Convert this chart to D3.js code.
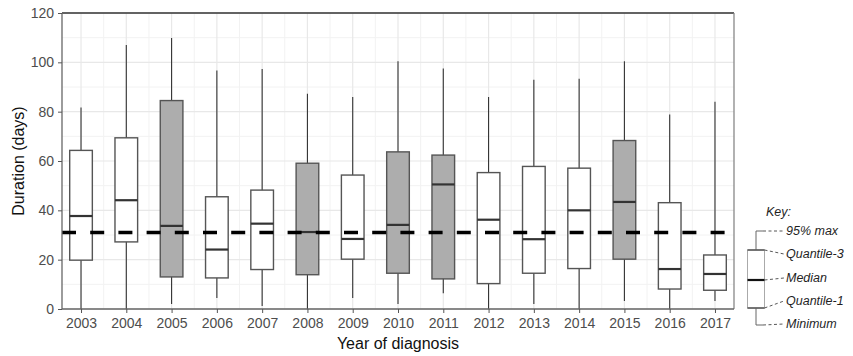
<html>
<head>
	<title>Duration by year of diagnosis</title>
	<script src="https://cdn.jsdelivr.net/npm/d3@7"></script>
	<style>
		body { margin: 0; background: #fff; }
		text { font-family: "Liberation Sans", Arial, sans-serif; }
	</style>
</head>
<body>
	<svg id="chart"></svg>
	<script>
		// data
		var years = ["2003","2004","2005","2006","2007","2008","2009","2010","2011","2012","2013","2014","2015","2016","2017"];
		var mins    = [0, 0, 2.0, 4.5, 1.2, 0, 4.5, 2.0, 6.4, 0, 2.0, 0, 3.2, 0, 3.2];
		var q1s     = [19.8, 27.2, 13.0, 12.6, 16.0, 13.9, 20.2, 14.5, 12.2, 10.3, 14.5, 16.4, 20.2, 8.1, 7.6];
		var medians = [37.7, 44.1, 33.7, 24.1, 34.6, 31.2, 28.4, 34.1, 50.5, 36.2, 28.3, 40.0, 43.4, 16.2, 14.2];
		var q3s     = [64.3, 69.4, 84.5, 45.5, 48.2, 59.1, 54.3, 63.7, 62.4, 55.3, 57.8, 57.1, 68.3, 43.1, 21.9];
		var maxs    = [81.7, 107.0, 109.9, 96.7, 97.3, 87.3, 85.9, 100.4, 97.5, 85.9, 92.9, 93.3, 100.4, 78.9, 84.0];
		var shaded  = [false, false, true, false, false, true, false, true, true, false, false, false, true, false, false];
		var overall = 31.0;
		var yTicks = [0, 20, 40, 60, 80, 100, 120];
		var keyLabels = ["95% max", "Quantile-3", "Median", "Quantile-1", "Minimum"];

		var width = 853, height = 356;
		var pLeft = 62, pRight = 734, pTop = 13, pBottom = 309;

		var rows = years.map(function(yr, i) {
			return {year: yr, min: mins[i], q1: q1s[i], med: medians[i], q3: q3s[i], max: maxs[i], shaded: shaded[i]};
		});

		var svg = d3.select("#chart")
				.attr("width", width)
				.attr("height", height);

		var x = d3.scalePoint().domain(years).range([pLeft, pRight]).padding(0.42);
		var y = d3.scaleLinear().domain([0, 120]).range([pBottom, pTop]);
		var step = x.step();
		var boxW = step * 0.5;

		// grid, minor then major
		var minorY = d3.range(10, 120, 20);
		svg.selectAll(".gy-minor").data(minorY).enter().append("line")
				.attr("x1", pLeft).attr("x2", pRight)
				.attr("y1", function(d) { return y(d); }).attr("y2", function(d) { return y(d); })
				.attr("stroke", "#f2f2f2").attr("stroke-width", 1);
		svg.selectAll(".gx-minor").data(years.slice(1)).enter().append("line")
				.attr("x1", function(d) { return x(d) - step / 2; }).attr("x2", function(d) { return x(d) - step / 2; })
				.attr("y1", pTop).attr("y2", pBottom)
				.attr("stroke", "#f2f2f2").attr("stroke-width", 1);
		svg.selectAll(".gy").data(yTicks).enter().append("line")
				.attr("x1", pLeft).attr("x2", pRight)
				.attr("y1", function(d) { return y(d); }).attr("y2", function(d) { return y(d); })
				.attr("stroke", "#e8e8e8").attr("stroke-width", 1.2);
		svg.selectAll(".gx").data(years).enter().append("line")
				.attr("x1", function(d) { return x(d); }).attr("x2", function(d) { return x(d); })
				.attr("y1", pTop).attr("y2", pBottom)
				.attr("stroke", "#e8e8e8").attr("stroke-width", 1.2);

		// boxes
		var g = svg.selectAll(".box").data(rows).enter().append("g").attr("class", "box");
		g.append("line")
				.attr("x1", function(d) { return x(d.year); }).attr("x2", function(d) { return x(d.year); })
				.attr("y1", function(d) { return y(d.max); }).attr("y2", function(d) { return y(d.min); })
				.attr("stroke", "#333").attr("stroke-width", 1.1);
		g.append("rect")
				.attr("x", function(d) { return x(d.year) - boxW / 2; })
				.attr("width", boxW)
				.attr("y", function(d) { return y(d.q3); })
				.attr("height", function(d) { return y(d.q1) - y(d.q3); })
				.attr("fill", function(d) { return d.shaded ? "#adadad" : "#fff"; })
				.attr("stroke", "#555").attr("stroke-width", 1.4);
		g.append("line")
				.attr("x1", function(d) { return x(d.year) - boxW / 2; }).attr("x2", function(d) { return x(d.year) + boxW / 2; })
				.attr("y1", function(d) { return y(d.med); }).attr("y2", function(d) { return y(d.med); })
				.attr("stroke", "#333").attr("stroke-width", 2.2);

		// overall reference line
		svg.append("line")
				.attr("x1", pLeft).attr("x2", pRight)
				.attr("y1", y(overall)).attr("y2", y(overall))
				.attr("stroke", "#000").attr("stroke-width", 3.5)
				.attr("stroke-dasharray", "14,14.2");

		// panel border
		svg.append("line").attr("x1", pLeft).attr("x2", pRight).attr("y1", pTop).attr("y2", pTop).attr("stroke", "#333").attr("stroke-width", 1.3);
		svg.append("line").attr("x1", pRight).attr("x2", pRight).attr("y1", pTop).attr("y2", pBottom).attr("stroke", "#888").attr("stroke-width", 1.3);

		// axes
		var yAxis = svg.append("g")
				.attr("transform", "translate(" + pLeft + ",0)")
				.call(d3.axisLeft(y).tickValues(yTicks).tickSize(4).tickPadding(4));
		var xAxis = svg.append("g")
				.attr("transform", "translate(0," + pBottom + ")")
				.call(d3.axisBottom(x).tickSize(4).tickPadding(5));
		[yAxis, xAxis].forEach(function(a) {
			a.select(".domain").attr("stroke", "#666").attr("stroke-width", 1.3);
			a.selectAll(".tick line").attr("stroke", "#555");
			a.selectAll(".tick text").attr("fill", "#4d4d4d").style("font-size", "14px").style("font-family", "Liberation Sans, Arial, sans-serif");
		});
		xAxis.select(".domain").attr("d", "M" + pLeft + ",0H" + pRight);
		yAxis.select(".domain").attr("d", "M0," + pTop + "V" + pBottom);

		svg.append("text")
				.attr("transform", "translate(24," + ((pTop + pBottom) / 2) + ") rotate(-90)")
				.attr("text-anchor", "middle")
				.style("font-size", "16px").attr("fill", "#111")
				.text("Duration (days)");
		svg.append("text")
				.attr("x", (pLeft + pRight) / 2).attr("y", 349)
				.attr("text-anchor", "middle")
				.style("font-size", "16px").attr("fill", "#111")
				.text("Year of diagnosis");

		// key
		var kx = 756, kw = 17;
		var ky = [231, 250, 280, 308, 325];
		var ly = [234, 257, 281, 304, 327];
		var key = svg.append("g").attr("class", "key");
		key.append("text").attr("x", 766).attr("y", 216)
				.style("font-size", "12.5px").style("font-style", "italic").attr("fill", "#1f1f1f")
				.text("Key:");
		key.append("line").attr("x1", kx).attr("x2", kx).attr("y1", ky[0]).attr("y2", ky[4]).attr("stroke", "#666").attr("stroke-width", 1);
		key.append("line").attr("x1", kx).attr("x2", kx + 7).attr("y1", ky[0]).attr("y2", ky[0]).attr("stroke", "#666").attr("stroke-width", 1);
		key.append("line").attr("x1", kx).attr("x2", kx + 7).attr("y1", ky[4]).attr("y2", ky[4]).attr("stroke", "#666").attr("stroke-width", 1);
		key.append("rect").attr("x", kx - 8.5).attr("y", ky[1]).attr("width", kw).attr("height", ky[3] - ky[1])
				.attr("fill", "#fff").attr("stroke", "#aaa").attr("stroke-width", 1);
		key.append("line").attr("x1", kx - 8.5).attr("x2", kx + 8.5).attr("y1", ky[1]).attr("y2", ky[1]).attr("stroke", "#555").attr("stroke-width", 1.5);
		key.append("line").attr("x1", kx - 8.5).attr("x2", kx + 8.5).attr("y1", ky[3]).attr("y2", ky[3]).attr("stroke", "#555").attr("stroke-width", 1.5);
		key.append("line").attr("x1", kx - 8.5).attr("x2", kx + 8.5).attr("y1", ky[2]).attr("y2", ky[2]).attr("stroke", "#111").attr("stroke-width", 2.2);
		var starts = [kx + 7, kx + 8.5, kx + 8.5, kx + 8.5, kx + 7];
		key.selectAll(".conn").data(keyLabels).enter().append("line")
				.attr("x1", function(d, i) { return starts[i]; }).attr("x2", 784)
				.attr("y1", function(d, i) { return ky[i]; }).attr("y2", function(d, i) { return ly[i] - 3; })
				.attr("stroke", "#444").attr("stroke-width", 0.9).attr("stroke-dasharray", "3,2.5");
		key.selectAll(".klab").data(keyLabels).enter().append("text")
				.attr("x", 786).attr("y", function(d, i) { return ly[i] + 1; })
				.style("font-size", "12.5px").style("font-style", "italic").attr("fill", "#1f1f1f")
				.text(function(d) { return d; });
	</script>
</body>
</html>
